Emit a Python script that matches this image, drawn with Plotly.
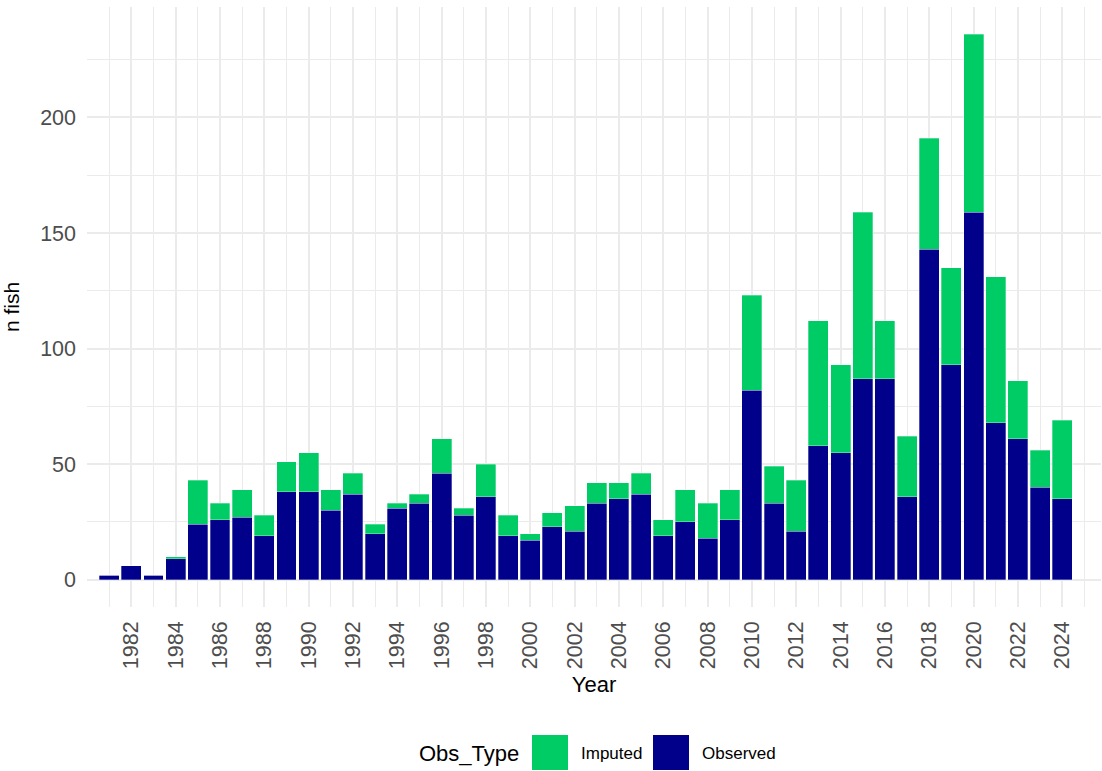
import plotly.graph_objects as go

years = [1981, 1982, 1983, 1984, 1985, 1986, 1987, 1988, 1989, 1990,
         1991, 1992, 1993, 1994, 1995, 1996, 1997, 1998, 1999, 2000,
         2001, 2002, 2003, 2004, 2005, 2006, 2007, 2008, 2009, 2010,
         2011, 2012, 2013, 2014, 2015, 2016, 2017, 2018, 2019, 2020,
         2021, 2022, 2023, 2024]
observed = [2, 6, 2, 9, 24, 26, 27, 19, 38, 38,
            30, 37, 20, 31, 33, 46, 28, 36, 19, 17,
            23, 21, 33, 35, 37, 19, 25, 18, 26, 82,
            33, 21, 58, 55, 87, 87, 36, 143, 93, 159,
            68, 61, 40, 35]
imputed = [0, 0, 0, 1, 19, 7, 12, 9, 13, 17,
           9, 9, 4, 2, 4, 15, 3, 14, 9, 3,
           6, 11, 9, 7, 9, 7, 14, 15, 13, 41,
           16, 22, 54, 38, 72, 25, 26, 48, 42, 77,
           63, 25, 16, 34]
x_ticks = [1982, 1984, 1986, 1988, 1990, 1992, 1994, 1996, 1998, 2000,
           2002, 2004, 2006, 2008, 2010, 2012, 2014, 2016, 2018, 2020,
           2022, 2024]
x_minor = [1980, 1981, 1983, 1985, 1987, 1989, 1991, 1993, 1995, 1997, 1999,
           2001, 2003, 2005, 2007, 2009, 2011, 2013, 2015, 2017, 2019,
           2021, 2023, 2025]
y_ticks = [0, 50, 100, 150, 200]
y_minor = [25, 75, 125, 175, 225]

series_names = ["Observed", "Imputed"]
series_colors = {"Observed": "#00008B", "Imputed": "#00CC66"}
legend_order = ["Imputed", "Observed"]
legend_title = "Obs_Type"

FONT = "Liberation Sans, Arial, sans-serif"
GRID = "#EBEBEB"

fig = go.Figure()
for name, vals in zip(series_names, [observed, imputed]):
    fig.add_trace(go.Bar(
        x=years, y=vals, name=name, width=0.9, showlegend=False,
        marker=dict(color=series_colors[name],
                    line=dict(color="rgba(255,255,255,0.6)", width=0.5)),
    ))

# Legend drawn ggplot-style (large square keys) below the plot
W, H = 1102, 771
L, R, T, B = 87, 1, 7, 164
pw, ph = W - L - R, H - T - B


def px(xp):
    return (xp - L) / pw


def py(yp):
    return (H - B - yp) / ph


fig.add_annotation(text=legend_title, xref="paper", yref="paper",
                   x=px(521), y=py(753), xanchor="right", yanchor="middle",
                   showarrow=False, font=dict(size=22, color="black"))
key_left = {"Imputed": 532, "Observed": 653}
for name in legend_order:
    x0 = key_left[name]
    fig.add_shape(type="rect", xref="paper", yref="paper",
                  x0=px(x0), x1=px(x0 + 36), y0=py(770), y1=py(735),
                  fillcolor=series_colors[name], line=dict(width=0))
    fig.add_annotation(text=name, xref="paper", yref="paper",
                       x=px(x0 + 47), y=py(753), xanchor="left", yanchor="middle",
                       showarrow=False, font=dict(size=17, color="black"))

fig.update_layout(
    barmode="stack",
    width=W, height=H,
    margin=dict(l=L, r=R, t=T, b=B),
    paper_bgcolor="white", plot_bgcolor="white",
    font=dict(family=FONT, color="black"),
    showlegend=False,
)
fig.update_xaxes(
    range=[1980.0, 2025.75],
    tickmode="array", tickvals=x_ticks, ticktext=[str(v) for v in x_ticks],
    tickangle=-90, tickfont=dict(size=21.5, color="#4D4D4D"),
    showgrid=True, gridcolor=GRID, gridwidth=1.6,
    zeroline=False, showline=False, ticks="",
    ticklabelstandoff=9,
    minor=dict(tickmode="array", tickvals=x_minor,
               showgrid=True, gridcolor=GRID, gridwidth=0.9, ticks=""),
    title=dict(text="Year", font=dict(size=22, color="black"), standoff=8),
    automargin=False,
)
fig.update_yaxes(
    range=[-11.8, 247.8],
    tickmode="array", tickvals=y_ticks, ticktext=[str(v) for v in y_ticks],
    tickfont=dict(size=21.5, color="#4D4D4D"),
    showgrid=True, gridcolor=GRID, gridwidth=1.6,
    zeroline=False, showline=False, ticks="",
    ticklabelstandoff=10,
    minor=dict(tickmode="array", tickvals=y_minor,
               showgrid=True, gridcolor=GRID, gridwidth=0.9, ticks=""),
    title=dict(text="n fish", font=dict(size=21, color="black"), standoff=14),
    automargin=False,
)

fig.write_html("out.html", config={"displayModeBar": False},
               post_script="document.body.style.margin='0px';")
